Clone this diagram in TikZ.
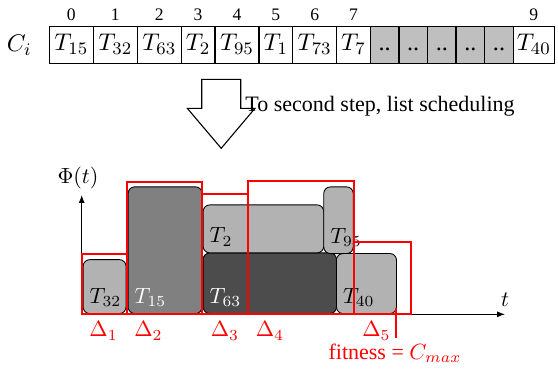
\documentclass[tikz,border=0pt]{standalone}
\usepackage{fontspec}
\setmainfont{Liberation Serif}
\usetikzlibrary{positioning, arrows.meta}

\begin{document}
\begin{tikzpicture}[
        x=0.4545pt, y=-0.4545pt,
        cell/.style={draw, semithick, outer sep=0pt, inner sep=1.5pt, minimum height=16.6pt, text height=7.6pt, text depth=2.2pt, font=\fontsize{11}{13}\selectfont},
        wide/.style={cell, minimum width=20pt},
        narrow/.style={cell, minimum width=15.3pt},
        dotcell/.style={cell, fill=black!25, minimum width=13pt},
        idx/.style={font=\fontsize{8}{9}\selectfont, inner sep=2.5pt},
        job/.style={draw, rounded corners=3pt, anchor=south west, inner sep=0pt},
        joblabel/.style={anchor=south west, inner sep=3pt},
        axis/.style={-{Latex[length=3.6pt,width=2.7pt]}},
        profile/.style={draw=red, line width=0.8pt},
        delta/.style={text=red}
    ]
        \useasboundingbox (0,0) rectangle (558,371);

        % Chromosome
        \node[wide, label={[idx]above:0}] (c0) at (71.3,45) {$T_{15}$};
        \node[wide, right=0pt of c0, label={[idx]above:1}] (c1) {$T_{32}$};
        \node[wide, right=0pt of c1, label={[idx]above:2}] (c2) {$T_{63}$};
        \node[narrow, right=0pt of c2, label={[idx]above:3}] (c3) {$T_{2}$};
        \node[wide, right=0pt of c3, label={[idx]above:4}] (c4) {$T_{95}$};
        \node[narrow, right=0pt of c4, label={[idx]above:5}] (c5) {$T_{1}$};
        \node[wide, right=0pt of c5, label={[idx]above:6}] (c6) {$T_{73}$};
        \node[narrow, right=0pt of c6, label={[idx]above:7}] (c7) {$T_{7}$};
        \node[dotcell, right=0pt of c7] (c8) {..};
        \node[dotcell, right=0pt of c8] (c9) {..};
        \node[dotcell, right=0pt of c9] (c10) {..};
        \node[dotcell, right=0pt of c10] (c11) {..};
        \node[dotcell, right=0pt of c11] (c12) {..};
        \node[cell, minimum width=18.6pt, right=0pt of c12, label={[idx]above:9}] (c13) {$T_{40}$};
        \node[left=4.5pt of c0, font=\fontsize{11}{13}\selectfont] (ci) {$C_i$};

        % Step arrow
        \draw[line width=0.5pt] (201.7,79.3) -- (240.7,79.3) -- (240.7,108.3) -- (255,108.3) -- (221.2,148.3) -- (187.3,108.3) -- (201.7,108.3) -- cycle;
        \node[anchor=base west, inner sep=0pt] (step2) at (245,111.7) {To second step, list scheduling};

        % Axes
        \coordinate (origin) at (81.7,314.3);
        \coordinate (ytop) at (81.7,195);
        \coordinate (xend) at (505,314.3);
        \draw[axis] (origin) -- (ytop);
        \draw[axis] (origin) -- (xend);
        \node (phi) at (78,178) {$\Phi(t)$};
        \node (tlab) at (505,300) {$t$};

        % Schedule
        \node[job, fill=black!30, minimum width=19.5pt, minimum height=24.5pt] (j32) at (82.7,314) {};
        \node[job, fill=black!50, minimum width=33.6pt, minimum height=57.6pt] (j15) at (127.7,314) {};
        \node[job, fill=black!70, minimum width=60.6pt, minimum height=27.6pt] (j63) at (202.7,314) {};
        \node[job, fill=black!30, minimum width=54.8pt, minimum height=21.8pt] (j2) at (202.7,253.3) {};
        \node[job, fill=black!30, minimum width=13.4pt, minimum height=30.3pt] (j95) at (323.3,254) {};
        \node[job, fill=black!30, minimum width=27.3pt, minimum height=27.3pt] (j40) at (336,314) {};

        \node[joblabel] (l32) at (j32.south west) {$T_{32}$};
        \node[joblabel, text=white] (l15) at (j15.south west) {$T_{15}$};
        \node[joblabel, text=white] (l63) at (j63.south west) {$T_{63}$};
        \node[joblabel] (l2) at (j2.south west) {$T_{2}$};
        \node[joblabel] (l95) at (j95.south west) {$T_{95}$};
        \node[joblabel] (l40) at (j40.south west) {$T_{40}$};

        % Profile
        \draw[profile] (82,314) rectangle (127,254);
        \draw[profile] (127,314) rectangle (202,181.7);
        \draw[profile] (202,314) rectangle (248,194);
        \draw[profile] (248,314) rectangle (354,181);
        \draw[profile] (354,314) rectangle (411,242);

        \node[delta] (d1) at (103.6,331) {$\Delta_1$};
        \node[delta] (d2) at (148.5,331) {$\Delta_2$};
        \node[delta] (d3) at (225,331) {$\Delta_3$};
        \node[delta] (d4) at (270,331) {$\Delta_4$};
        \node[delta] (d5) at (376.5,331) {$\Delta_5$};

        % Makespan
        \coordinate (cmax) at (396,308);
        \coordinate (fitend) at (396,338);
        \draw[profile] (cmax) -- (fitend);
        \node[delta] (fit) at (395,353) {fitness = $C_{max}$};
    \end{tikzpicture}
\end{document}
